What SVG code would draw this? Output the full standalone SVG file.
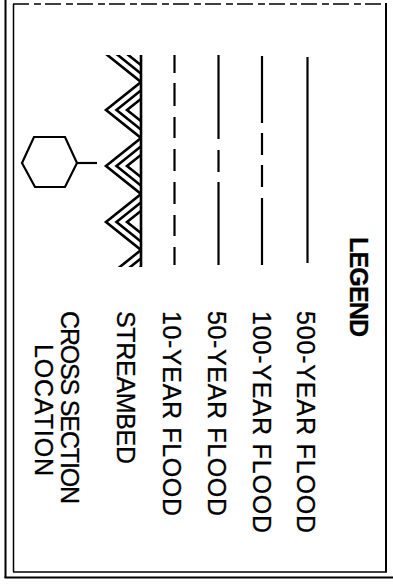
<svg xmlns="http://www.w3.org/2000/svg" width="393" height="588" viewBox="0 0 393 588">
<style>
.ln{stroke:#000;stroke-width:2.2;fill:none}
.fr{stroke:#000;fill:none}
.tx{font-family:"Liberation Sans",Arial,sans-serif;font-size:25px;fill:#000;stroke:#000;stroke-width:0.3}
.bd{font-weight:bold}
</style>
<defs>
<clipPath id="sbclip"><rect x="98" y="55" width="43" height="212"/></clipPath>
<polyline id="zz" points="141,26 106,54 141,82 106,110 141,138 106,166 141,194 106,222 141,250 106,278 141,306" fill="none" stroke="#000" stroke-width="2.6"/>
</defs>
<rect width="393" height="588" fill="#fff"/>
<g id="frame">
<line class="fr" x1="5.5" y1="0" x2="5.5" y2="578" stroke-width="2"/>
<line class="fr" x1="4.5" y1="577.5" x2="393" y2="577.5" stroke-width="2"/>
<line class="fr" x1="13.5" y1="4" x2="13.5" y2="572" stroke-width="1.5" stroke="#333"/>
<line class="fr" x1="13" y1="4" x2="386" y2="4" stroke-width="1.5" stroke="#555" stroke-dasharray="16 5 7 4"/>
<line class="fr" x1="386" y1="3" x2="386" y2="572" stroke-width="2"/>
<line class="fr" x1="13" y1="572" x2="387" y2="572" stroke-width="1.5" stroke="#444"/>
</g>
<g id="connectors">
<line id="l500" class="ln" x1="307.5" y1="57" x2="307.5" y2="263"/>
<path id="l100" class="ln" d="M262,56V123M262,133V155M262,165V187M262,198V265"/>
<path id="l50" class="ln" d="M218.5,55V139M218.5,150V172M218.5,182V265"/>
<path id="l10" class="ln" d="M174.5,55V73M174.5,83V106M174.5,117V138M174.5,149V171M174.5,182V204M174.5,215V236M174.5,247V265"/>
</g>
<g id="streambed">
<g clip-path="url(#sbclip)">
<use href="#zz"/>
<use href="#zz" transform="translate(10.5,0)"/>
<use href="#zz" transform="translate(21,0)"/>
</g>
<line x1="141" y1="55" x2="141" y2="267" stroke="#000" stroke-width="2.6"/>
</g>
<g id="cross-section-symbol">
<polygon points="22,163 34,137 65,137 77,163 65,187 35,187" fill="none" stroke="#000" stroke-width="2.2"/>
<line x1="77" y1="163" x2="97" y2="163" stroke="#000" stroke-width="2.2"/>
</g>
<g id="labels">
<text class="tx bd" transform="translate(350,237) rotate(90)" textLength="100">LEGEND</text>
<text class="tx" transform="translate(297,311) rotate(90)" textLength="222">500-YEAR FLOOD</text>
<text class="tx" transform="translate(253,311) rotate(90)" textLength="222">100-YEAR FLOOD</text>
<text class="tx" transform="translate(208,311) rotate(90)" textLength="205">50-YEAR FLOOD</text>
<text class="tx" transform="translate(163,311) rotate(90)" textLength="205">10-YEAR FLOOD</text>
<text class="tx" transform="translate(117,311) rotate(90)" textLength="153">STREAMBED</text>
<text class="tx" transform="translate(61,311) rotate(90)" textLength="193">CROSS SECTION</text>
<text class="tx" transform="translate(35,410) rotate(90)" text-anchor="middle" textLength="132">LOCATION</text>
</g>
</svg>
